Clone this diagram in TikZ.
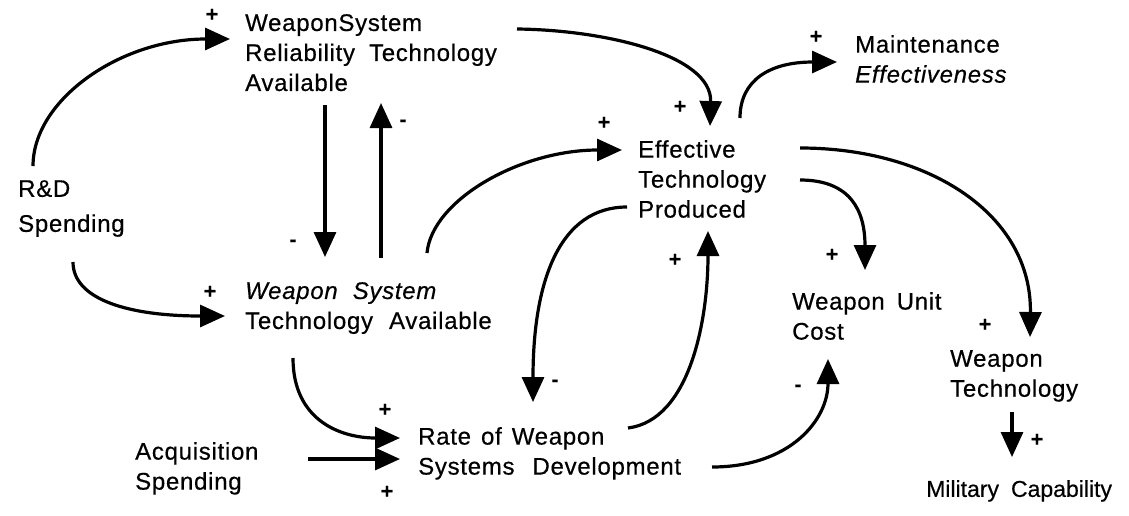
\documentclass[tikz,border=0pt]{standalone}
\usepackage{fontspec}
\setmainfont{Liberation Sans}[LetterSpace=3,FakeBold=0.5]
\usetikzlibrary{arrows.meta,calc}
\begin{document}
\begin{tikzpicture}[x=1pt,y=-1pt,
  lbl/.style={anchor=north west,inner sep=0pt,align=left,font=\fontsize{24}{30}\selectfont},
  sgn/.style={inner sep=0pt,font=\fontsize{21}{21}\selectfont\bfseries},
  link/.style={line width=3.2pt,-{Triangle[length=25pt,width=22pt]}}]
\useasboundingbox (0,0) rectangle (1129,515);
% variables
\node[lbl] (rd)   at (18,180)  {R\&D\\[5pt]Spending};
\node[lbl] (wsr)  at (245,14)  {WeaponSystem\\Reliability\hspace{14pt}Technology\\Available};
\node[lbl] (wst)  at (245,282) {\textit{Weapon\hspace{15pt}System}\\Technology\hspace{16pt}Available};
\node[lbl] (etp)  at (638,140) {Effective\\Technology\\Produced};
\node[lbl] (me)   at (855,35)  {Maintenance\\\textit{Effectiveness}};
\node[lbl] (wuc)  at (792,292) {Weapon\hspace{12pt}Unit\\Cost};
\node[lbl] (wt)   at (950,350) {Weapon\\Technology};
\node[lbl,font=\fontsize{23}{30}\selectfont\addfontfeatures{LetterSpace=0}] (mc) at (926,480) {Military\hspace{12pt}Capability};
\node[lbl] (as)   at (135,442) {Acquisition\\Spending};
\node[lbl] (rwsd) at (418,427) {Rate\hspace{10pt}of\hspace{10pt}Weapon\\Systems\hspace{18pt}Development};
% links
\draw[link] ($(rd.north west)+(15,-14)$) .. controls (33,100) and (120,39) .. ($(wsr.north west)+(-15,25)$);
\draw[link] ($(rd.north west)+(55,82)$) .. controls (73,300) and (130,316) .. ($(wst.north west)+(-20,34)$);
\draw[link] ($(wsr.north west)+(80,91)$) -- ($(wst.north west)+(80,-25)$);
\draw[link] ($(wst.north west)+(136,-24)$) -- ($(wsr.north west)+(136,89)$);
\draw[link] ($(wst.north west)+(182,-29)$) .. controls (432,200) and (520,150) .. ($(etp.north west)+(-16,10)$);
\draw[link] ($(wsr.north west)+(272,15)$) .. controls (605,30) and (712,55) .. ($(etp.north west)+(72,-14)$);
\draw[link] ($(etp.north west)+(102,-22)$) .. controls (740,80) and (770,62) .. ($(me.north west)+(-18,27)$);
\draw[link] ($(etp.north west)+(162,40)$) .. controls (850,180) and (865,210) .. ($(wuc.north west)+(73,-22)$);
\draw[link] ($(etp.north west)+(162,8)$) .. controls (930,148) and (1032,215) .. ($(wt.north west)+(80,-13)$);
\draw[link] ($(etp.north west)+(-11,67)$) .. controls (560,207) and (533,280) .. ($(rwsd.north west)+(115,-25)$);
\draw[link] ($(rwsd.north west)+(210,1)$) .. controls (690,420) and (708,320) .. ($(etp.north west)+(70,91)$);
\draw[link] ($(rwsd.north west)+(294,40)$) .. controls (790,467) and (828,420) .. ($(wuc.north west)+(36,67)$);
\draw[link] ($(wst.north west)+(48,76)$) .. controls (293,420) and (340,438) .. ($(rwsd.north west)+(-18,11)$);
\draw[link] ($(as.north west)+(173,17)$) -- ($(rwsd.north west)+(-18,32)$);
\draw[link] ($(wt.north west)+(62,62)$) -- ($(mc.north west)+(86,-23)$);
% polarity signs
\node[sgn] (s1)  at (212,15)  {+};
\node[sgn] (s2)  at (403,123) {-};
\node[sgn] (s3)  at (293,243) {-};
\node[sgn] (s4)  at (210,292) {+};
\node[sgn] (s5)  at (604,123) {+};
\node[sgn] (s6)  at (680,107) {+};
\node[sgn] (s7)  at (816,37)  {+};
\node[sgn] (s8)  at (675,260) {+};
\node[sgn] (s9)  at (555,383) {-};
\node[sgn] (s10) at (832,255) {+};
\node[sgn] (s11) at (798,388) {-};
\node[sgn] (s12) at (985,325) {+};
\node[sgn] (s13) at (1037,440) {+};
\node[sgn] (s14) at (385,410) {+};
\node[sgn] (s15) at (387,492) {+};
\end{tikzpicture}
\end{document}
